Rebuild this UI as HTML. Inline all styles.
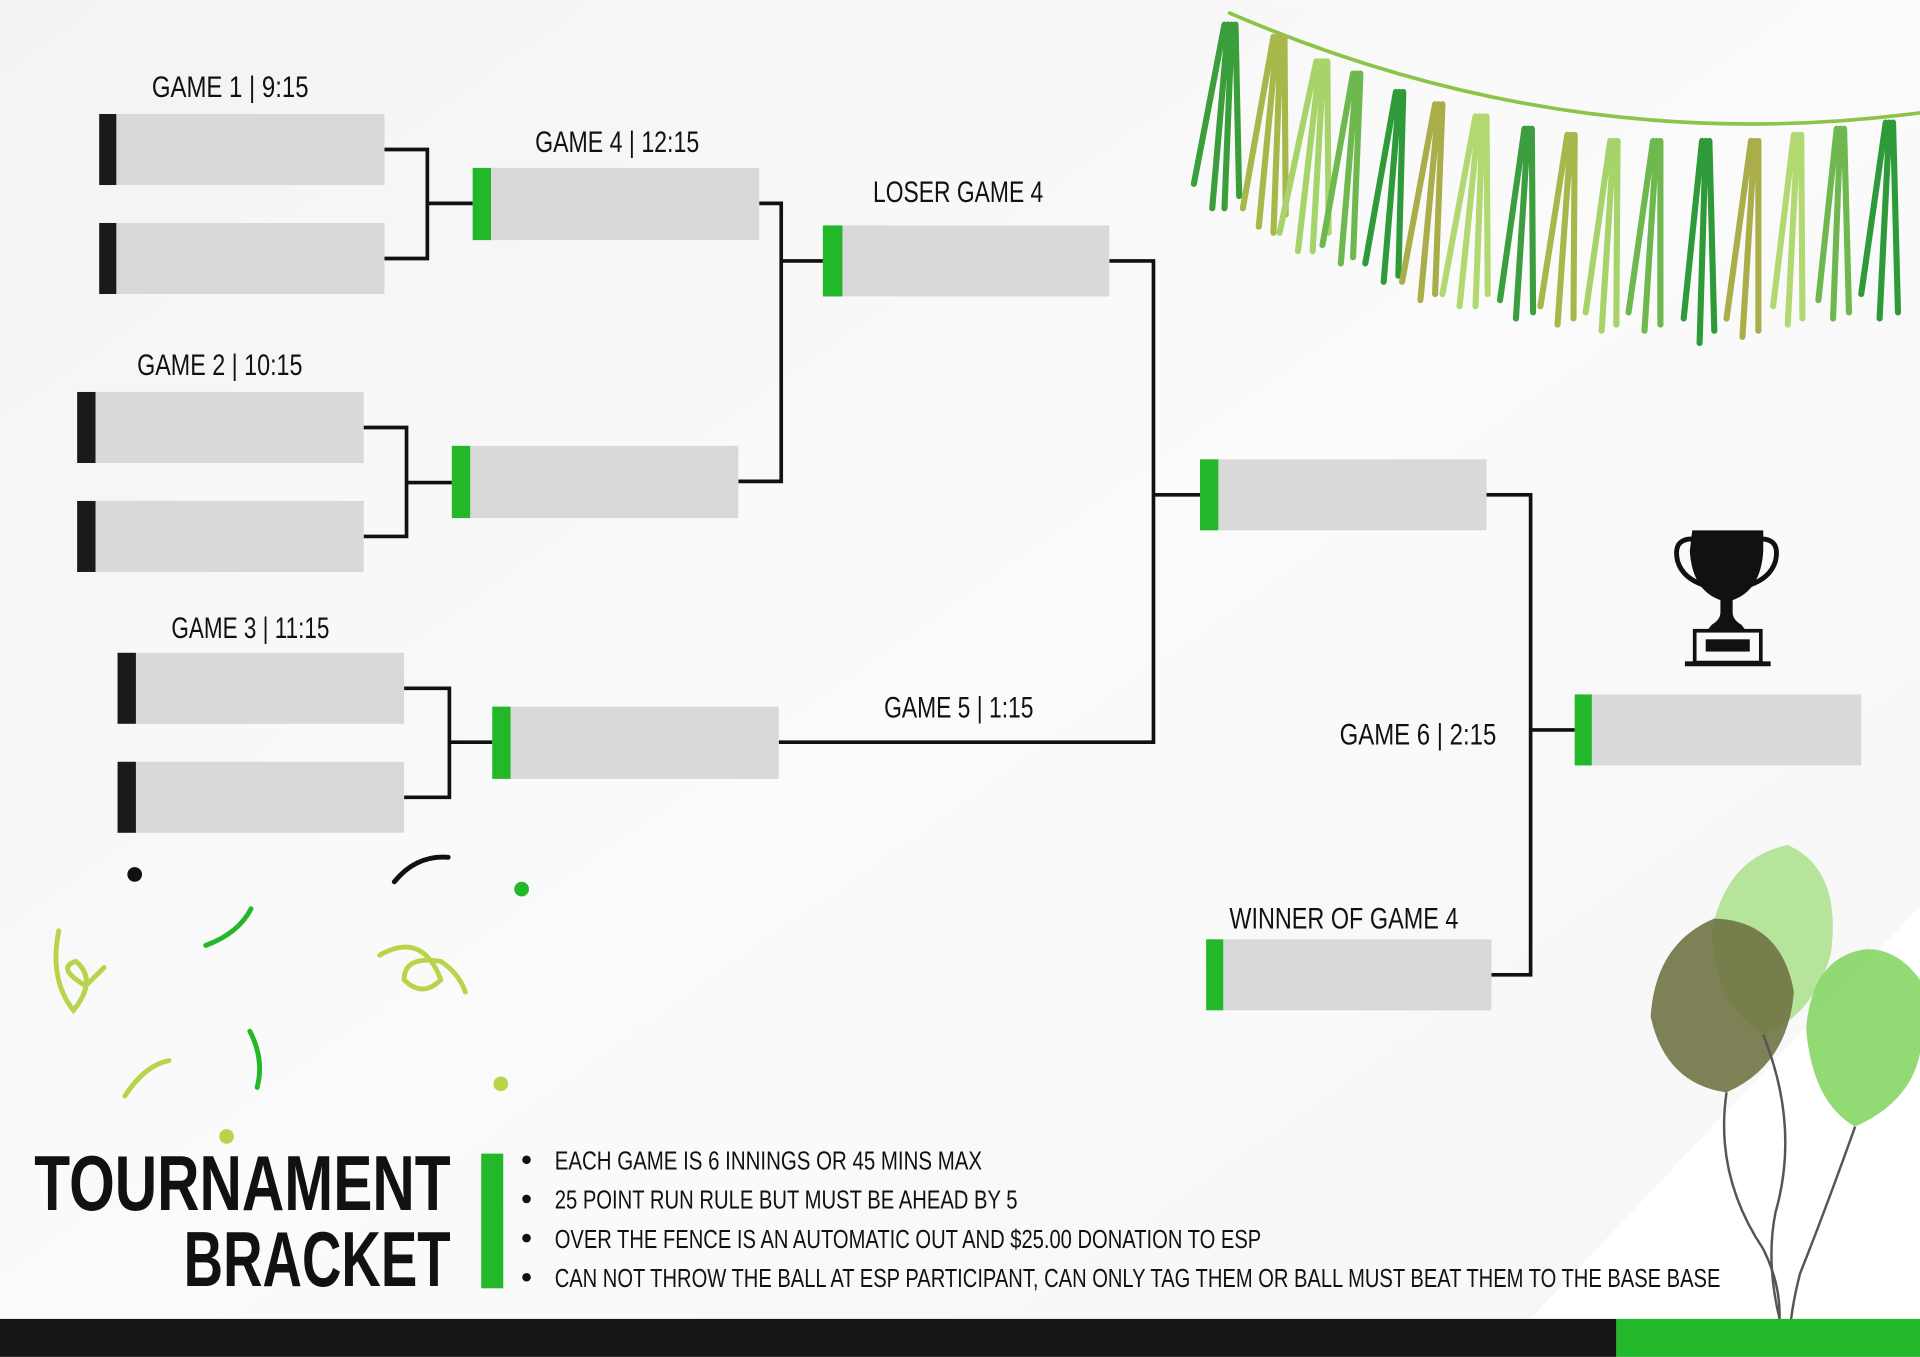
<!DOCTYPE html>
<html><head><meta charset="utf-8"><style>
html,body{margin:0;padding:0;background:#fafafa;}
svg{display:block;}
text{font-family:"Liberation Sans Narrow","Liberation Sans",sans-serif;fill:#111;}
</style></head><body>
<svg width="1920" height="1357" viewBox="0 0 1568 1108" xmlns="http://www.w3.org/2000/svg">
<defs>
<linearGradient id="bg" x1="0" y1="0" x2="1" y2="1"><stop offset="0" stop-color="#f3f3f3"/><stop offset="0.5" stop-color="#fbfbfb"/><stop offset="1" stop-color="#f6f6f6"/></linearGradient>
</defs>
<rect width="1568" height="1108" fill="url(#bg)"/>
<polygon points="1568,740 1250,1077 1568,1077" fill="#ffffff"/>

<!-- connectors -->
<g fill="none" stroke="#111" stroke-width="3">
<polyline points="314,122 349,122 349,211 314,211"/><line x1="349" y1="166" x2="386" y2="166"/>
<polyline points="297,349 332,349 332,438 297,438"/><line x1="332" y1="394" x2="369" y2="394"/>
<polyline points="330,562 367,562 367,651 330,651"/><line x1="367" y1="606" x2="402" y2="606"/>
<polyline points="620,166 638,166 638,393 603,393"/><line x1="638" y1="213" x2="672" y2="213"/>
<polyline points="906,213 942,213 942,606 636,606"/><line x1="942" y1="404" x2="980" y2="404"/>
<polyline points="1214,404 1250,404 1250,796 1218,796"/><line x1="1250" y1="596" x2="1286" y2="596"/>
</g>

<!-- boxes -->
<g fill="#d9d9d9">
<rect x="95" y="93" width="219" height="58"/><rect x="95" y="182" width="219" height="58"/>
<rect x="78" y="320" width="219" height="58"/><rect x="78" y="409" width="219" height="58"/>
<rect x="111" y="533" width="219" height="58"/><rect x="111" y="622" width="219" height="58"/>
<rect x="401" y="137" width="219" height="59"/><rect x="384" y="364" width="219" height="59"/>
<rect x="417" y="577" width="219" height="59"/><rect x="688" y="184" width="218" height="58"/>
<rect x="995" y="375" width="219" height="58"/><rect x="999" y="767" width="219" height="58"/>
<rect x="1300" y="567" width="220" height="58"/>
</g>
<g fill="#1a1a1a">
<rect x="81" y="93" width="14" height="58"/><rect x="81" y="182" width="14" height="58"/>
<rect x="63" y="320" width="15" height="58"/><rect x="63" y="409" width="15" height="58"/>
<rect x="96" y="533" width="15" height="58"/><rect x="96" y="622" width="15" height="58"/>
</g>
<g fill="#22b82a">
<rect x="386" y="137" width="15" height="59"/><rect x="369" y="364" width="15" height="59"/>
<rect x="402" y="577" width="15" height="59"/><rect x="672" y="184" width="16" height="58"/>
<rect x="980" y="375" width="15" height="58"/><rect x="985" y="767" width="14" height="58"/>
<rect x="1286" y="567" width="14" height="58"/>
</g>

<!-- labels -->
<g font-size="24">
<text x="124" y="79" textLength="128" lengthAdjust="spacingAndGlyphs">GAME 1  | 9:15</text>
<text x="437" y="124" textLength="134" lengthAdjust="spacingAndGlyphs">GAME 4 | 12:15</text>
<text x="713" y="165" textLength="139" lengthAdjust="spacingAndGlyphs">LOSER GAME 4</text>
<text x="112" y="306" textLength="135" lengthAdjust="spacingAndGlyphs">GAME 2 | 10:15</text>
<text x="140" y="521" textLength="129" lengthAdjust="spacingAndGlyphs">GAME 3 | 11:15</text>
<text x="722" y="586" textLength="122" lengthAdjust="spacingAndGlyphs">GAME 5 | 1:15</text>
<text x="1094" y="608" textLength="128" lengthAdjust="spacingAndGlyphs">GAME 6 | 2:15</text>
<text x="1004" y="758" textLength="187" lengthAdjust="spacingAndGlyphs">WINNER OF GAME 4</text>
</g>

<!-- trophy -->
<g fill="#111">
<path d="M1382,433 H1440 V450 Q1438,482 1415,490 L1415,500 Q1415,506 1422,510 L1426,515 H1394 L1398,510 Q1405,506 1405,500 L1405,490 Q1382,482 1380,450 Z"/>
<path d="M1382,440 Q1366,440 1370,458 Q1374,472 1392,478" fill="none" stroke="#111" stroke-width="4"/>
<path d="M1438,440 Q1454,440 1450,458 Q1446,472 1428,478" fill="none" stroke="#111" stroke-width="4"/>
<rect x="1384" y="515" width="54" height="26" fill="none" stroke="#111" stroke-width="3"/>
<rect x="1393" y="522" width="36" height="10"/>
<rect x="1376" y="540" width="70" height="4"/>
</g>

<!-- garland -->
<path d="M1003,10 Q1280,130 1568,92" fill="none" stroke="#8cc44a" stroke-width="3"/>
<g stroke-linecap="round" stroke-width="5" fill="none">
<g stroke="#3a9e3a"><path d="M1000,20 L975,150 M1003,20 L990,170 M1006,20 L1000,170 M1009,20 L1012,160"/></g>
<g stroke="#a6b84a"><path d="M1040,30 L1015,170 M1043,30 L1028,185 M1046,30 L1040,190 M1049,30 L1050,175"/></g>
<g stroke="#a6d46a"><path d="M1075,50 L1045,190 M1078,50 L1060,205 M1081,50 L1072,205 M1084,50 L1085,190"/></g>
<g stroke="#6fb84f"><path d="M1105,60 L1080,200 M1108,60 L1095,215 M1111,60 L1105,210"/></g>
<g stroke="#2f9a3a"><path d="M1140,75 L1115,215 M1143,75 L1130,230 M1146,75 L1142,225"/></g>
<g stroke="#a9ae4a"><path d="M1172,85 L1145,230 M1175,85 L1160,245 M1178,85 L1172,240"/></g>
<g stroke="#b2d872"><path d="M1205,95 L1178,240 M1208,95 L1192,250 M1211,95 L1205,250 M1214,95 L1215,240"/></g>
<g stroke="#3d9e3f"><path d="M1245,105 L1225,245 M1248,105 L1238,260 M1251,105 L1252,255"/></g>
<g stroke="#a6b84a"><path d="M1280,110 L1258,250 M1283,110 L1272,265 M1286,110 L1285,260"/></g>
<g stroke="#a6d46a"><path d="M1315,115 L1295,255 M1318,115 L1308,270 M1321,115 L1320,265"/></g>
<g stroke="#6fb84f"><path d="M1350,115 L1330,255 M1353,115 L1343,270 M1356,115 L1356,265"/></g>
<g stroke="#2f9a3a"><path d="M1390,115 L1375,260 M1393,115 L1388,280 M1396,115 L1400,270"/></g>
<g stroke="#a9ae4a"><path d="M1430,115 L1410,260 M1433,115 L1423,275 M1436,115 L1436,270"/></g>
<g stroke="#b2d872"><path d="M1465,110 L1448,250 M1468,110 L1460,265 M1471,110 L1472,260"/></g>
<g stroke="#6fb84f"><path d="M1500,105 L1485,245 M1503,105 L1497,260 M1506,105 L1510,255"/></g>
<g stroke="#2f9a3a"><path d="M1540,100 L1520,240 M1543,100 L1535,260 M1546,100 L1550,255"/></g>
</g>

<!-- confetti -->
<circle cx="110" cy="714" r="6" fill="#111"/><circle cx="426" cy="726" r="6" fill="#22b82a"/>
<circle cx="409" cy="885" r="6" fill="#b8d44a"/><circle cx="185" cy="928" r="6" fill="#b8d44a"/>
<g fill="none" stroke-width="4" stroke-linecap="round">
<path d="M322,720 Q340,698 366,700" stroke="#111"/>
<path d="M168,772 Q195,762 205,742" stroke="#22b82a"/>
<path d="M204,842 Q216,865 210,888" stroke="#22b82a"/>
<path d="M102,895 Q118,870 138,866" stroke="#b8d44a"/>
<path d="M48,760 Q40,800 60,825 Q80,800 62,785 Q45,790 70,805 L85,790" stroke="#b8d44a"/>
<path d="M310,780 Q345,760 360,800 Q345,815 330,800 Q330,780 360,785 Q375,795 380,810" stroke="#b8d44a"/>
</g>

<!-- balloons -->
<g>
<path d="M1460,690 Q1410,700 1398,760 Q1400,820 1440,845 Q1480,830 1495,780 Q1505,710 1460,690Z" fill="#a9e08a" opacity="0.85"/>
<path d="M1400,750 Q1352,770 1348,830 Q1360,885 1410,892 Q1460,870 1465,810 Q1455,752 1400,750Z" fill="#6f7342" opacity="0.9"/>
<path d="M1525,775 Q1480,780 1475,840 Q1480,900 1515,920 Q1560,900 1568,860 L1568,800 Q1550,775 1525,775Z" fill="#7fd45a" opacity="0.85"/>
<g fill="none" stroke="#555" stroke-width="2">
<path d="M1410,892 Q1400,960 1440,1020 Q1460,1060 1450,1100"/>
<path d="M1440,845 Q1470,920 1450,990 Q1440,1040 1460,1100"/>
<path d="M1515,920 Q1490,990 1470,1040 Q1460,1080 1462,1100"/>
</g>
</g>

<!-- title -->
<text x="28" y="988" font-size="64" font-weight="bold" textLength="340" lengthAdjust="spacingAndGlyphs" style="font-family:'Liberation Sans',sans-serif">TOURNAMENT</text>
<text x="150" y="1050" font-size="64" font-weight="bold" textLength="218" lengthAdjust="spacingAndGlyphs" style="font-family:'Liberation Sans',sans-serif">BRACKET</text>
<rect x="393" y="942" width="18" height="110" fill="#22b82a"/>
<g fill="#111"><circle cx="430" cy="947" r="3.5"/><circle cx="430" cy="979" r="3.5"/><circle cx="430" cy="1011" r="3.5"/><circle cx="430" cy="1043" r="3.5"/></g>
<g font-size="21">
<text x="453" y="955" textLength="349" lengthAdjust="spacingAndGlyphs">EACH GAME IS 6 INNINGS OR 45 MINS MAX</text>
<text x="453" y="987" textLength="378" lengthAdjust="spacingAndGlyphs">25 POINT RUN RULE BUT MUST BE AHEAD BY 5</text>
<text x="453" y="1019" textLength="577" lengthAdjust="spacingAndGlyphs">OVER THE FENCE IS AN AUTOMATIC OUT AND $25.00 DONATION TO ESP</text>
<text x="453" y="1051" textLength="952" lengthAdjust="spacingAndGlyphs">CAN NOT THROW THE BALL AT ESP PARTICIPANT, CAN ONLY TAG THEM OR BALL MUST BEAT THEM TO THE BASE BASE</text>
</g>

<!-- bottom bar -->
<rect x="0" y="1077" width="1320" height="31" fill="#161616"/>
<rect x="1320" y="1077" width="248" height="31" fill="#22b82a"/>
</svg>
</body></html>
